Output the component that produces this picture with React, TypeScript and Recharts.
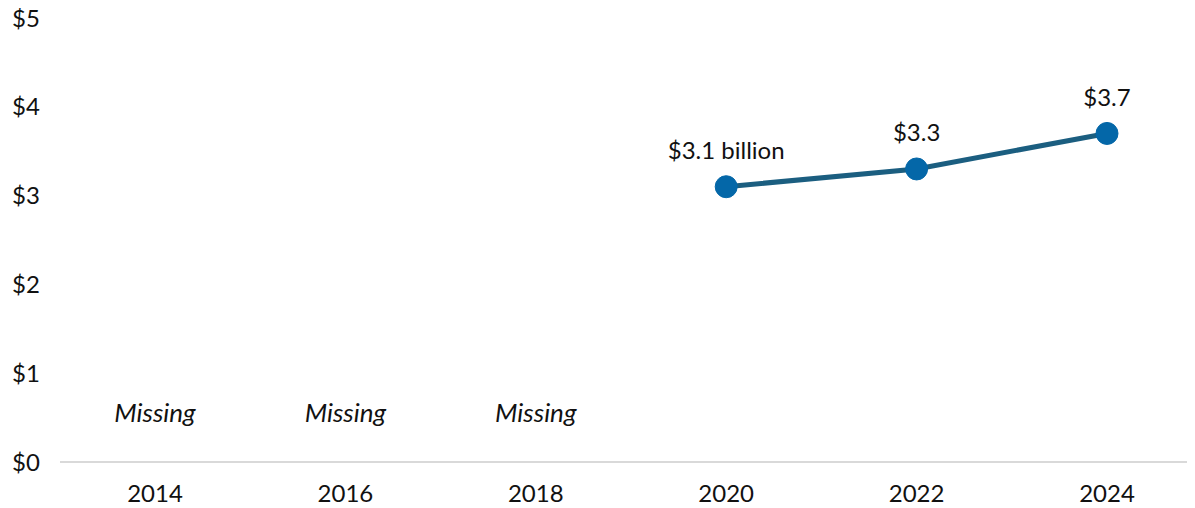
import React from 'react';
import { LineChart, Line, XAxis, YAxis, LabelList } from 'recharts';

const years = ['2014', '2016', '2018', '2020', '2022', '2024'];
const values: (number | null)[] = [null, null, null, 3.1, 3.3, 3.7];
const valueLabels = ['', '', '', '$3.1 billion', '$3.3', '$3.7'];
const missingLabels: (string | null)[] = ['Missing', 'Missing', 'Missing', null, null, null];
const yTicks = [0, 1, 2, 3, 4, 5];

const data = years.map((y, i) => ({
  year: y,
  value: values[i],
  label: valueLabels[i],
  missingBase: missingLabels[i] ? 0 : null,
  missing: missingLabels[i] ?? '',
}));

const FONT = 'Lato, "Noto Sans", sans-serif';
const FS = 24;

const YTick = (props: any) => {
  const { y, payload } = props;
  return (
    <text x={12} y={y} dy={8.5} textAnchor="start" fontFamily={FONT} fontSize={FS} fill="#111">
      {`$${payload.value}`}
    </text>
  );
};

const XTick = (props: any) => {
  const { x, y, payload } = props;
  return (
    <text x={x} y={y} dy={39.5} textAnchor="middle" fontFamily={FONT} fontSize={FS} fill="#111">
      {payload.value}
    </text>
  );
};

const ValueLabel = (props: any) => {
  const { x, y, value } = props;
  if (!value) return null;
  return (
    <text x={x} y={y} dy={-27.5} textAnchor="middle" fontFamily={FONT} fontSize={FS} fill="#111">
      {value}
    </text>
  );
};

const MissingLabel = (props: any) => {
  const { x, y, value } = props;
  if (!value) return null;
  return (
    <text x={x} y={y} dy={-39.6} textAnchor="middle" fontFamily={FONT} fontStyle="italic" fontSize={26} fill="#111">
      {value}
    </text>
  );
};

export default function App() {
  return (
    <div style={{ width: 1195, height: 508, overflow: 'hidden', margin: '-8px 0 0 -8px' }}>
      <LineChart
        width={1210}
        height={508}
        data={data}
        margin={{ top: 18, right: 8, bottom: 6, left: 8 }}
      >
        <XAxis
          dataKey="year"
          axisLine={{ stroke: '#d9d9d9', strokeWidth: 2 }}
          tickLine={false}
          tickSize={0}
          tickMargin={0}
          height={40}
          tick={<XTick />}
          interval={0}
          padding={{ left: 95, right: 95 }}
        />
        <YAxis
          domain={[0, 5]}
          ticks={yTicks}
          width={52}
          axisLine={false}
          tickLine={false}
          tick={<YTick />}
          interval={0}
        />
        <Line
          dataKey="missingBase"
          stroke="none"
          dot={false}
          activeDot={false}
          isAnimationActive={false}
        >
          <LabelList dataKey="missing" content={<MissingLabel />} />
        </Line>
        <Line
          dataKey="value"
          stroke="#1b5e80"
          strokeWidth={5}
          dot={{ r: 11, fill: '#0467a8', stroke: '#0467a8', strokeWidth: 1 }}
          activeDot={false}
          isAnimationActive={false}
        >
          <LabelList dataKey="label" content={<ValueLabel />} />
        </Line>
      </LineChart>
    </div>
  );
}
